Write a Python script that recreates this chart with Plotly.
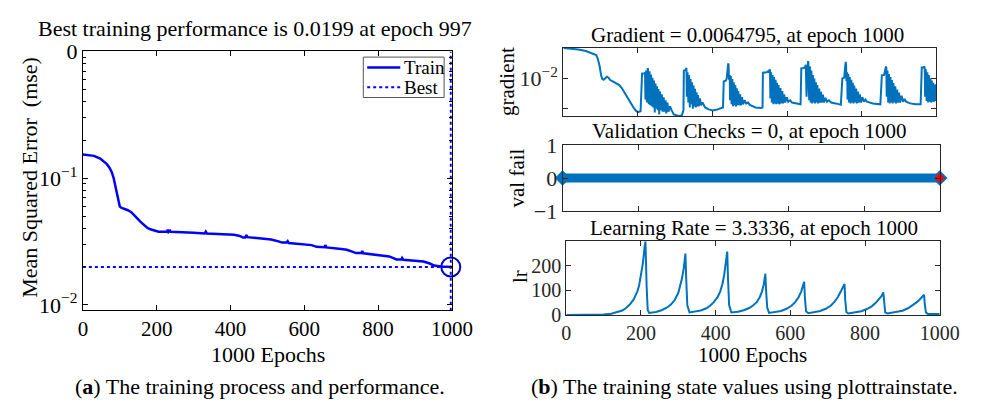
import plotly.graph_objects as go

W, H = 987, 415

# ---------------- data ----------------
mse_epochs = [0, 20, 30, 47, 57, 65, 72, 78, 83, 87, 90, 93, 97, 100, 105, 113, 122, 131, 140, 148,
              157, 166, 175, 183, 195, 205, 228, 230, 232, 236, 238, 260, 300, 330, 333, 336, 380,
              410, 425, 434, 440, 443, 446, 470, 510, 530, 540, 552, 555, 558, 600, 620, 633, 645,
              655, 657, 660, 700, 715, 730, 740, 755, 757, 760, 800, 830, 843, 850, 863, 865, 868,
              900, 923, 940, 952, 970, 985, 997, 1000]
mse_values = [0.154, 0.152, 0.150, 0.1426, 0.136, 0.129, 0.121, 0.112, 0.101, 0.0893, 0.079, 0.071,
              0.063, 0.0597, 0.0582, 0.0574, 0.0558, 0.0539, 0.051, 0.048, 0.045, 0.0423, 0.0405,
              0.0395, 0.0385, 0.0378, 0.0378, 0.0392, 0.0376, 0.0385, 0.0377, 0.0376, 0.0370, 0.0366,
              0.0378, 0.0366, 0.0362, 0.0358, 0.0350, 0.0340, 0.0340, 0.0356, 0.0342, 0.0338, 0.0328,
              0.0317, 0.0310, 0.0310, 0.0318, 0.0308, 0.0300, 0.0296, 0.0287, 0.0285, 0.0285, 0.0296,
              0.0284, 0.0276, 0.0272, 0.0263, 0.0256, 0.0256, 0.0266, 0.0255, 0.0248, 0.0241, 0.0233,
              0.0228, 0.0228, 0.0234, 0.0227, 0.0224, 0.0220, 0.0212, 0.0204, 0.0201, 0.0200, 0.0199,
              0.0199]
best_epoch = 997
best_perf = 0.0199

grad_epochs = [0, 20, 40, 60, 80, 88, 92, 97, 101, 104, 108, 112, 117, 121, 125, 130, 137, 145, 150,
               157, 163, 170, 176, 183, 189, 195, 200, 207,
               211, 217, 219, 220, 222, 224, 226, 227, 229, 231, 233, 235, 237, 239, 241, 243, 245,
               247, 249, 251, 253, 255, 257, 259, 261, 264, 266, 269, 271, 274, 276, 279, 282, 286,
               290, 296, 305, 313, 318, 322,
               323, 328, 330, 331, 333, 335, 337, 339, 341, 343, 345, 347, 349, 351, 353, 355, 357,
               359, 361, 363, 366, 369, 373, 380, 390, 400, 410, 420, 428,
               430, 436, 438, 440, 442, 443, 444, 446, 447, 449, 451, 453, 455, 457, 459, 461, 463,
               465, 467, 469, 471, 474, 476, 479, 482, 486, 490, 495, 500, 515, 530, 534,
               535, 545, 549, 551, 553, 554, 555, 557, 559, 561, 563, 565, 567, 569, 571, 573, 575,
               577, 579, 582, 584, 587, 589, 592, 595, 599, 603, 608, 613, 625, 636,
               638, 645, 648, 650, 652, 654, 656, 657, 659, 661, 663, 665, 667, 669, 671, 673, 675,
               677, 679, 681, 683, 686, 688, 691, 693, 696, 699, 703, 707, 712, 718, 730, 744,
               748, 753, 755, 757, 758, 759, 761, 762, 764, 766, 768, 770, 772, 774, 776, 778, 780,
               782, 785, 787, 790, 792, 795, 798, 802, 806, 810, 814, 830, 850,
               854, 860, 863, 865, 866, 867, 869, 871, 873, 875, 877, 879, 881, 883, 885, 887, 890,
               892, 895, 897, 900, 903, 907, 911, 915, 919, 930, 945, 958,
               961, 966, 968, 969, 970, 972, 974, 976, 978, 980, 982, 984, 986, 988, 990, 992, 994,
               996, 998, 1000]
grad_values = [0.100, 0.095, 0.089, 0.080, 0.067, 0.059, 0.045, 0.026, 0.013, 0.0097, 0.0090, 0.0098,
               0.0113, 0.0105, 0.0090, 0.0082, 0.0075, 0.0066, 0.0060, 0.0047, 0.0035, 0.0026,
               0.0019, 0.0014, 0.00105, 0.00085, 0.00077, 0.00083,
               0.0143, 0.0148, 0.0150, 0.0020, 0.018, 0.0016, 0.022, 0.019, 0.0014, 0.017, 0.0013,
               0.0135, 0.0012, 0.0105, 0.0011, 0.0085, 0.00075, 0.0068, 0.0010, 0.0055, 0.0009,
               0.0045, 0.00065, 0.0037, 0.0009, 0.0030, 0.0008, 0.0024, 0.0008, 0.0019, 0.0007,
               0.0016, 0.0008, 0.0012, 0.0009, 0.00065, 0.0006, 0.00058, 0.00062, 0.0009,
               0.018, 0.019, 0.022, 0.0025, 0.016, 0.0016, 0.013, 0.0011, 0.0095, 0.0014, 0.0075,
               0.0010, 0.0058, 0.0012, 0.0045, 0.0011, 0.0035, 0.0012, 0.0028, 0.0012, 0.0022,
               0.0013, 0.0016, 0.0011, 0.00095, 0.00088, 0.00092, 0.0010, 0.0011,
               0.0079, 0.0085, 0.010, 0.022, 0.031, 0.028, 0.009, 0.013, 0.0019, 0.012, 0.0014,
               0.0095, 0.0012, 0.0075, 0.0013, 0.0060, 0.0012, 0.0047, 0.0013, 0.0038, 0.0013,
               0.0030, 0.0013, 0.0024, 0.0014, 0.0019, 0.0015, 0.0016, 0.00133, 0.0011, 0.00105,
               0.0011,
               0.0154, 0.016, 0.017, 0.0155, 0.0195, 0.0185, 0.0022, 0.016, 0.0016, 0.013, 0.0014,
               0.011, 0.0015, 0.009, 0.0014, 0.0072, 0.0015, 0.0060, 0.0014, 0.0048, 0.0015, 0.0038,
               0.0015, 0.0030, 0.0016, 0.0024, 0.0017, 0.0019, 0.0016, 0.0015, 0.0014,
               0.0214, 0.022, 0.024, 0.028, 0.0025, 0.030, 0.037, 0.033, 0.0019, 0.025, 0.0016,
               0.018, 0.0015, 0.013, 0.0016, 0.0098, 0.0015, 0.0075, 0.0016, 0.0060, 0.0015, 0.0046,
               0.0016, 0.0036, 0.0016, 0.0029, 0.0016, 0.0023, 0.0017, 0.0019, 0.0016, 0.0015,
               0.00135,
               0.0100, 0.0105, 0.020, 0.035, 0.030, 0.008, 0.016, 0.0020, 0.014, 0.0016, 0.011,
               0.0015, 0.009, 0.0016, 0.0072, 0.0015, 0.0058, 0.0016, 0.0046, 0.0015, 0.0037, 0.0016,
               0.0030, 0.0016, 0.0024, 0.0017, 0.0020, 0.0017, 0.0015, 0.0014,
               0.0127, 0.013, 0.020, 0.0246, 0.022, 0.0025, 0.018, 0.0016, 0.014, 0.0015, 0.011,
               0.0016, 0.0088, 0.0015, 0.0070, 0.0016, 0.0055, 0.0015, 0.0043, 0.0016, 0.0034,
               0.0016, 0.0027, 0.0017, 0.0021, 0.0017, 0.0015, 0.0014, 0.0014,
               0.023, 0.023, 0.025, 0.020, 0.0025, 0.020, 0.0018, 0.016, 0.0016, 0.013, 0.0017,
               0.010, 0.0016, 0.0085, 0.0017, 0.0072, 0.0017, 0.0062, 0.0018, 0.0065]

val_epochs = [0, 1000]
val_fail = [0, 0]

lr_epochs = [0, 50, 100, 120, 140, 150, 160, 170, 180, 190, 195, 200, 205, 210, 212, 215, 218, 222,
             240, 255, 270, 280, 290, 300, 305, 310, 315, 319, 321, 324, 330, 345, 360, 375, 385,
             395, 405, 412, 418, 423, 428, 431, 433, 436, 442, 460, 475, 490, 500, 510, 518, 524,
             529, 533, 535, 538, 543, 560, 575, 590, 603, 613, 622, 629, 634, 637, 639, 642, 648,
             665, 680, 695, 708, 718, 727, 735, 741, 745, 747, 750, 755, 770, 790, 805, 818, 828,
             837, 844, 849, 851, 854, 860, 880, 900, 915, 927, 937, 946, 953, 958, 960, 963, 968,
             980, 1000]
lr_values = [0.0, 0.3, 2, 5, 12, 18, 28, 42, 62, 95, 120, 160, 210, 280, 300, 120, 20, 8,
             12, 19, 30, 42, 60, 90, 115, 150, 195, 250, 150, 40, 10, 13, 18, 27, 37,
             52, 72, 95, 125, 165, 215, 258, 150, 40, 10, 13, 19, 28, 38, 52, 72, 95,
             125, 168, 100, 30, 8, 11, 16, 25, 37, 52, 72, 95, 118, 135, 70, 15, 7,
             11, 16, 25, 37, 53, 72, 95, 115, 126, 60, 12, 6, 9, 15, 24, 35, 48,
             62, 76, 92, 50, 10, 6, 10, 17, 27, 38, 50, 62, 72, 82, 45, 10, 4,
             3.5, 3.3336]

x_ticks = [0, 200, 400, 600, 800, 1000]
legend_labels = ["Train", "Best"]

# ---------------- styling ----------------
SERIF = "Liberation Serif"
MBLUE = "#0072BD"
BLUE = "#0000FF"
AX = "#262626"


def px_x(a, b):
    return [a / W, b / W]


def px_y(top, bottom):
    return [1 - bottom / H, 1 - top / H]


fig = go.Figure()

# ---- left: performance ----
fig.add_trace(go.Scatter(x=mse_epochs, y=mse_values, mode="lines", name=legend_labels[0],
                         line=dict(color=BLUE, width=2.5), xaxis="x", yaxis="y"))
fig.add_trace(go.Scatter(x=[0, 1000], y=[best_perf, best_perf], mode="lines", name=legend_labels[1],
                         line=dict(color=BLUE, width=2, dash="dot"), xaxis="x", yaxis="y"))
fig.add_trace(go.Scatter(x=[best_epoch, best_epoch], y=[0.009, 1.0], mode="lines",
                         line=dict(color=BLUE, width=2, dash="dot"),
                         xaxis="x", yaxis="y"))
fig.add_trace(go.Scatter(x=[best_epoch], y=[best_perf], mode="markers",
                         marker=dict(symbol="circle-open", size=19, color="#0000CC",
                                     line=dict(width=2, color="#0000CC")),
                         cliponaxis=False, xaxis="x", yaxis="y"))

# ---- right: gradient ----
fig.add_trace(go.Scatter(x=grad_epochs, y=grad_values, mode="lines",
                         line=dict(color=MBLUE, width=2), xaxis="x2", yaxis="y2"))
# ---- right: validation checks ----
fig.add_trace(go.Scatter(x=val_epochs, y=val_fail, mode="lines+markers",
                         line=dict(color=MBLUE, width=9),
                         marker=dict(symbol="diamond", size=12, color=MBLUE),
                         cliponaxis=False, xaxis="x3", yaxis="y3"))
fig.add_trace(go.Scatter(x=[val_epochs[-1]], y=[val_fail[-1]], mode="markers",
                         marker=dict(symbol="diamond", size=8, color="#FF0000"),
                         cliponaxis=False, xaxis="x3", yaxis="y3"))
# ---- right: learning rate ----
fig.add_trace(go.Scatter(x=lr_epochs, y=lr_values, mode="lines",
                         line=dict(color=MBLUE, width=2), xaxis="x4", yaxis="y4"))

common = dict(showline=True, linewidth=1, mirror="ticks", ticks="inside", ticklen=5,
              showgrid=False, zeroline=False)

fig.update_layout(
    width=W, height=H, margin=dict(l=0, r=0, t=0, b=0),
    paper_bgcolor="white", plot_bgcolor="white",
    font=dict(family=SERIF, size=20, color="black"),
    showlegend=False,
    xaxis=dict(domain=px_x(80, 459), range=[0, 1000], tickvals=x_ticks,
               linecolor="black", tickcolor="black", anchor="y",
               tickfont=dict(family=SERIF, size=21, color="black"), **common),
    yaxis=dict(domain=px_y(42, 317), type="log", range=[-2.04, 0], anchor="x",
               tickvals=[1, 0.1, 0.01], ticktext=["0", "10<sup>−1</sup>", "10<sup>−2</sup>"],
               linecolor="black", tickcolor="black",
               tickfont=dict(family=SERIF, size=22, color="black"),
               minor=dict(ticks="inside", ticklen=3, tickcolor="black",
                          tickvals=[0.2, 0.3, 0.4, 0.5, 0.6, 0.7, 0.8, 0.9,
                                    0.02, 0.03, 0.04, 0.05, 0.06, 0.07, 0.08, 0.09]),
               **common),
    xaxis2=dict(domain=px_x(573.5, 956.5), range=[0, 1000], tickvals=x_ticks, showticklabels=False,
                linecolor=AX, tickcolor=AX, anchor="y2", **common),
    yaxis2=dict(domain=px_y(38, 110.7), type="log", range=[-3.24, -0.99], anchor="x2",
                tickvals=[0.01, 0.001], ticktext=["10<sup>−2</sup>", ""],
                linecolor=AX, tickcolor=AX,
                tickfont=dict(family=SERIF, size=22, color=AX), **common),
    xaxis3=dict(domain=px_x(572.7, 960), range=[0, 1000], tickvals=x_ticks, showticklabels=False,
                linecolor=AX, tickcolor=AX, anchor="y3", **common),
    yaxis3=dict(domain=px_y(141.7, 211.7), range=[-1, 1], anchor="x3",
                tickvals=[-1, 0, 1], ticktext=["−1", "0", "1"],
                linecolor=AX, tickcolor=AX,
                tickfont=dict(family=SERIF, size=22, color=AX), **common),
    xaxis4=dict(domain=px_x(576.5, 960), range=[0, 1000], tickvals=x_ticks, anchor="y4",
                linecolor=AX, tickcolor=AX,
                tickfont=dict(family=SERIF, size=20, color=AX), **common),
    yaxis4=dict(domain=px_y(244, 322.3), range=[0, 300], anchor="x4",
                tickvals=[0, 100, 200], linecolor=AX, tickcolor=AX,
                tickfont=dict(family=SERIF, size=20, color=AX), **common),
)


def ann(text, x, y, size=20, angle=0, color="black", xanchor="center"):
    fig.add_annotation(text=text, x=x / W, y=1 - y / H, xref="paper", yref="paper",
                       showarrow=False, textangle=angle, xanchor=xanchor, yanchor="middle",
                       font=dict(family=SERIF, size=size, color=color))


def pshape(kind, x0, y0, x1, y1, **kw):
    fig.add_shape(type=kind, xref="paper", yref="paper", x0=x0 / W, x1=x1 / W,
                  y0=1 - y0 / H, y1=1 - y1 / H, **kw)


# legend drawn by hand (compact MATLAB style)
pshape("rect", 368, 48, 451, 91, line=dict(color="#555555", width=1), fillcolor="white", layer="above")
pshape("line", 372, 59, 406, 59, line=dict(color=BLUE, width=2.5), layer="above")
pshape("line", 372, 80, 406, 80, line=dict(color=BLUE, width=2, dash="dot"), layer="above")
ann(legend_labels[0], 408, 59, 19, xanchor="left")
ann(legend_labels[1], 408, 80, 19, xanchor="left")

ann("Best training performance is 0.0199 at epoch 997", 257, 18, 22)
ann("Mean Squared Error  (mse)", 25, 176, 22, -90)
ann("1000 Epochs", 270, 364, 22)

ann("Gradient = 0.0064795, at epoch 1000", 763, 24, 21)
ann("gradient", 515, 74, 21, -90)
ann("Validation Checks = 0, at epoch 1000", 765, 127, 21)
ann("val fail", 526, 177, 21, -90)
ann("Learning Rate = 3.3336, at epoch 1000", 769, 230, 21)
ann("lr", 529, 282, 21, -90)
ann("1000 Epochs", 768, 365, 21)

ann("(<b>a</b>) The training process and performance.", 262, 399, 22)
ann("(<b>b</b>) The training state values using plottrainstate.", 760, 399, 22)

fig.write_html("out.html")
